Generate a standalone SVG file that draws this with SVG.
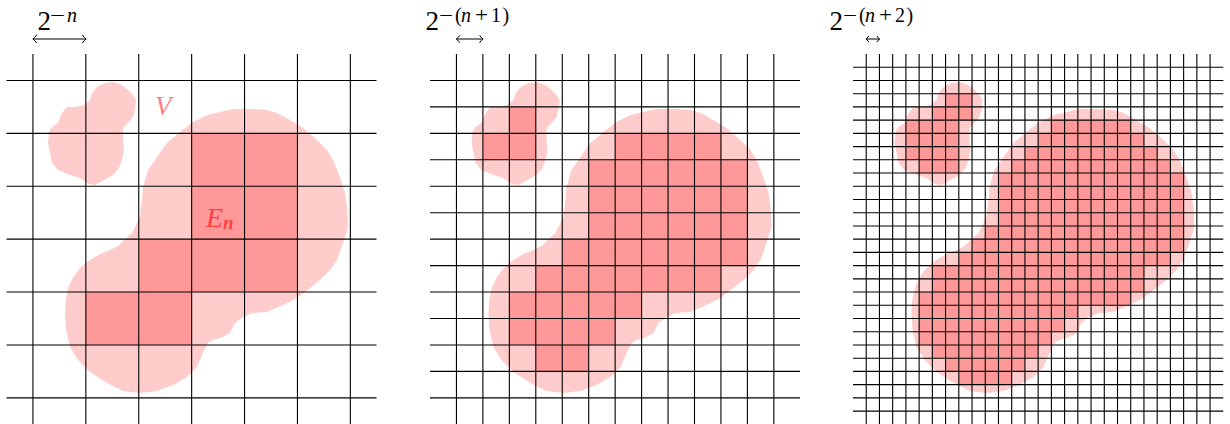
<svg xmlns="http://www.w3.org/2000/svg" xmlns:xlink="http://www.w3.org/1999/xlink" width="1230" height="424" viewBox="0 0 1230 424">
<style>
.lt{fill:#ffcccc}
.dk{fill:#ff9999}
.grid{fill:none;stroke:#000;stroke-width:1.1}
.arr{fill:none;stroke:#000;stroke-width:1;stroke-linecap:round;stroke-linejoin:round}
.t{font-family:"Liberation Serif","Times New Roman",serif;fill:#000}
.it{font-style:italic}
</style>
<defs>
<path id="bigblob" d="M220,112 L233,109 L253,109 L267,110 L277,113 L290,120 L303,128 L317,140 L327,150 L333,160 L340,177 L345,193 L347,207 L348,227 L343,243 L337,260 L330,270 L320,280 L310,288 L297,298 L283,305 L267,312 L253,313 L243,317 L235,323 L230,333 L223,337 L213,340 L208,343 L203,353 L197,367 L187,377 L173,385 L157,391 L140,393 L123,391 L107,383 L90,372 L78,360 L70,347 L66,330 L65,313 L66,298 L69,286 L74,276 L81,267 L90,260 L100,254 L110,250 L118,246 L124,240 L132,233 L137,223 L140,217 L142,200 L143,187 L148,170 L157,157 L167,143 L180,132 L193,122 L207,115 Z"/>
<path id="smallblob" d="M113,82 L122,85 L128,90 L133,95 L136,100 L135,110 L133,117 L128,123 L123,128 L123,140 L124,150 L122,160 L119,168 L113,175 L104,180 L95,185 L88,184 L80,178 L70,175 L58,170 L52,163 L50,153 L48,143 L49,132 L52,127 L58,123 L62,113 L67,107 L75,107 L84,105 L90,100 L92,93 L97,87 L105,83 Z"/>
</defs>

<g id="panel1">
  <g id="blob1" class="lt">
    <use xlink:href="#bigblob"/>
    <use xlink:href="#smallblob"/>
  </g>
  <g id="cells1" class="dk">
    <rect x="191.65" y="133.35" width="105.8" height="105.8"/>
    <rect x="138.75" y="239.15" width="158.7" height="52.9"/>
    <rect x="85.85" y="292.05" width="105.8" height="52.9"/>
  </g>
  <path id="grid1" class="grid" d="M32.95,54V424M85.85,54V424M138.75,54V424M191.65,54V424M244.55,54V424M297.45,54V424M350.35,54V424M6.5,80.45H376.5M6.5,133.35H376.5M6.5,186.25H376.5M6.5,239.15H376.5M6.5,292.05H376.5M6.5,344.95H376.5M6.5,397.85H376.5"/>
  <text class="t" x="155" y="115" font-size="27" style="font-style:italic;fill:#ff8080">V</text>
  <text class="t" x="206" y="227" font-size="28" style="fill:#ff4040"><tspan font-style="italic">E</tspan><tspan font-style="italic" font-weight="bold" font-size="19" dy="2">n</tspan></text>
  <g id="label1">
    <text class="t" x="37.5" y="30" font-size="27">2</text>
    <text class="t" x="50" y="22" font-size="20"><tspan textLength="15" lengthAdjust="spacingAndGlyphs">−</tspan><tspan class="it" x="67">n</tspan></text>
    <path class="arr" d="M33,39H86M36.5,35.2Q34.2,38.3 33,39Q34.2,39.7 36.5,42.8M82.5,35.2Q84.8,38.3 86,39Q84.8,39.7 82.5,42.8"/>
  </g>
</g>

<g id="panel2">
  <g id="blob2" class="lt" transform="translate(423.5,0)">
    <use xlink:href="#bigblob"/>
    <use xlink:href="#smallblob"/>
  </g>
  <g id="cells2" class="dk">
    <rect x="509.35" y="106.9" width="26.45" height="26.45"/>
    <rect x="482.9" y="133.35" width="52.9" height="26.45"/>
    <rect x="615.15" y="133.35" width="105.8" height="26.45"/>
    <rect x="588.7" y="159.8" width="158.7" height="79.35"/>
    <rect x="562.25" y="239.15" width="185.15" height="26.45"/>
    <rect x="535.8" y="265.6" width="185.15" height="26.45"/>
    <rect x="509.35" y="292.05" width="132.25" height="26.45"/>
    <rect x="509.35" y="318.5" width="105.8" height="26.45"/>
    <rect x="535.8" y="344.95" width="52.9" height="26.45"/>
  </g>
  <path id="grid2" class="grid" d="M456.45,54V424M482.9,54V424M509.35,54V424M535.8,54V424M562.25,54V424M588.7,54V424M615.15,54V424M641.6,54V424M668.05,54V424M694.5,54V424M720.95,54V424M747.4,54V424M773.85,54V424M430,80.45H800M430,106.9H800M430,133.35H800M430,159.8H800M430,186.25H800M430,212.7H800M430,239.15H800M430,265.6H800M430,292.05H800M430,318.5H800M430,344.95H800M430,371.4H800M430,397.85H800"/>
  <g id="label2">
    <text class="t" x="425.5" y="29.5" font-size="27">2</text>
    <text class="t" y="22" font-size="20"><tspan x="439" textLength="14" lengthAdjust="spacingAndGlyphs">−</tspan><tspan x="455">(</tspan><tspan class="it" x="461">n</tspan><tspan x="475" textLength="13" lengthAdjust="spacingAndGlyphs">+</tspan><tspan x="491">1</tspan><tspan x="502.5">)</tspan></text>
    <path class="arr" d="M456.45,39H482.9M459.6,35.6Q457.5,38.4 456.45,39Q457.5,39.6 459.6,42.4M479.75,35.6Q481.85,38.4 482.9,39Q481.85,39.6 479.75,42.4"/>
  </g>
</g>

<g id="panel3">
  <g id="blob3" class="lt" transform="translate(846.5,0)">
    <use xlink:href="#bigblob"/>
    <use xlink:href="#smallblob"/>
  </g>
  <g id="cells3" class="dk">
    <rect x="945.575" y="93.675" width="26.45" height="13.225"/>
    <rect x="932.35" y="106.9" width="39.675" height="13.225"/>
    <rect x="905.9" y="120.125" width="52.9" height="39.675"/>
    <rect x="919.125" y="159.8" width="39.675" height="13.225"/>
    <rect x="1051.375" y="120.125" width="79.35" height="13.225"/>
    <rect x="1038.15" y="133.35" width="105.8" height="13.225"/>
    <rect x="1024.925" y="146.575" width="132.25" height="13.225"/>
    <rect x="1011.7" y="159.8" width="158.7" height="13.225"/>
    <rect x="998.475" y="173.025" width="185.15" height="52.9"/>
    <rect x="985.25" y="225.925" width="198.375" height="13.225"/>
    <rect x="972.025" y="239.15" width="211.6" height="13.225"/>
    <rect x="958.8" y="252.375" width="211.6" height="13.225"/>
    <rect x="932.35" y="265.6" width="211.6" height="26.45"/>
    <rect x="919.125" y="292.05" width="211.6" height="13.225"/>
    <rect x="919.125" y="305.275" width="158.7" height="13.225"/>
    <rect x="919.125" y="318.5" width="145.475" height="13.225"/>
    <rect x="919.125" y="331.725" width="132.25" height="13.225"/>
    <rect x="932.35" y="344.95" width="105.8" height="13.225"/>
    <rect x="945.575" y="358.175" width="79.35" height="13.225"/>
    <rect x="958.8" y="371.4" width="52.9" height="13.225"/>
  </g>
  <path id="grid3" class="grid" d="M866.23,54V424M879.45,54V424M892.68,54V424M905.9,54V424M919.13,54V424M932.35,54V424M945.58,54V424M958.8,54V424M972.03,54V424M985.25,54V424M998.48,54V424M1011.7,54V424M1024.93,54V424M1038.15,54V424M1051.38,54V424M1064.6,54V424M1077.83,54V424M1091.05,54V424M1104.28,54V424M1117.5,54V424M1130.73,54V424M1143.95,54V424M1157.18,54V424M1170.4,54V424M1183.63,54V424M1196.85,54V424M1210.08,54V424M853,67.23H1223.3M853,80.45H1223.3M853,93.68H1223.3M853,106.9H1223.3M853,120.13H1223.3M853,133.35H1223.3M853,146.58H1223.3M853,159.8H1223.3M853,173.03H1223.3M853,186.25H1223.3M853,199.48H1223.3M853,212.7H1223.3M853,225.93H1223.3M853,239.15H1223.3M853,252.38H1223.3M853,265.6H1223.3M853,278.83H1223.3M853,292.05H1223.3M853,305.28H1223.3M853,318.5H1223.3M853,331.73H1223.3M853,344.95H1223.3M853,358.18H1223.3M853,371.4H1223.3M853,384.63H1223.3M853,397.85H1223.3M853,411.08H1223.3"/>
  <g id="label3">
    <text class="t" x="829.5" y="29.5" font-size="27">2</text>
    <text class="t" y="22" font-size="20"><tspan x="843" textLength="14" lengthAdjust="spacingAndGlyphs">−</tspan><tspan x="859">(</tspan><tspan class="it" x="865">n</tspan><tspan x="879" textLength="13" lengthAdjust="spacingAndGlyphs">+</tspan><tspan x="895">2</tspan><tspan x="906.5">)</tspan></text>
    <path class="arr" d="M866.23,39H879.45M868.6,36.2Q866.9,38.5 866.23,39Q866.9,39.5 868.6,41.8M877.1,36.2Q878.8,38.5 879.45,39Q878.8,39.5 877.1,41.8"/>
  </g>
</g>
</svg>
